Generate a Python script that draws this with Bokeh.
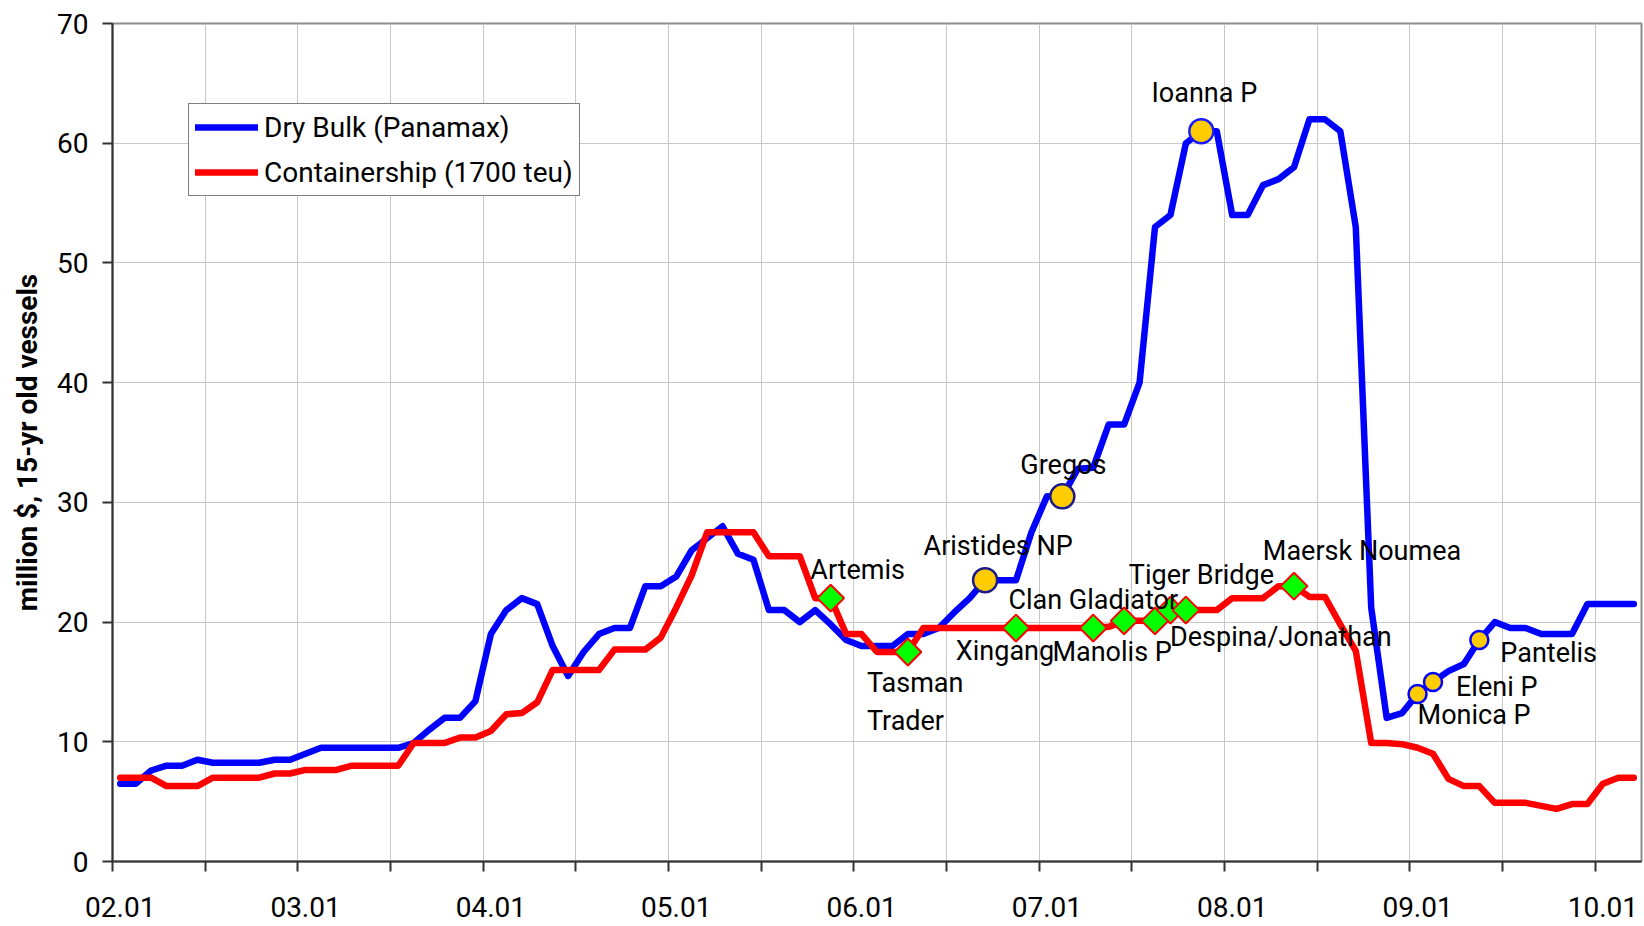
import numpy as np
from bokeh.plotting import figure
from bokeh.models import ColumnDataSource, FixedTicker, Legend, LegendItem, Range1d
from bokeh.core.properties import value
from bokeh.embed import file_html
from bokeh.resources import INLINE

# ---- data: monthly second-hand prices, Jan 2002 .. Mar 2010 (million $) ----
year_labels = ["02.01", "03.01", "04.01", "05.01", "06.01",
               "07.01", "08.01", "09.01", "10.01"]

dry_bulk = [
    6.5, 6.5, 7.6, 8.0, 8.0, 8.5, 8.25, 8.25, 8.25, 8.25, 8.5, 8.5,      # 2002
    9.0, 9.5, 9.5, 9.5, 9.5, 9.5, 9.5, 9.9, 11.0, 12.0, 12.0, 13.4,      # 2003
    19.0, 21.0, 22.0, 21.5, 18.0, 15.5, 17.5, 19.0, 19.5, 19.5, 23.0, 23.0,  # 2004
    23.8, 26.0, 27.0, 28.0, 25.7, 25.2, 21.0, 21.0, 20.0, 21.0, 19.8, 18.5,  # 2005
    18.0, 18.0, 18.0, 19.0, 19.0, 19.5, 20.8, 22.0, 23.5, 23.5, 23.5, 27.5,  # 2006
    30.5, 30.5, 32.8, 32.9, 36.5, 36.5, 40.0, 53.0, 54.0, 60.0, 61.0, 61.0,  # 2007
    54.0, 54.0, 56.5, 57.0, 58.0, 62.0, 62.0, 61.0, 53.0, 21.2, 12.0, 12.4,  # 2008
    14.0, 15.0, 15.9, 16.5, 18.5, 20.0, 19.5, 19.5, 19.0, 19.0, 19.0, 21.5,  # 2009
    21.5, 21.5, 21.5,                                                     # 2010
]

containership = [
    7.0, 7.0, 7.0, 6.3, 6.3, 6.3, 7.0, 7.0, 7.0, 7.0, 7.35, 7.35,        # 2002
    7.65, 7.65, 7.65, 8.0, 8.0, 8.0, 8.0, 9.9, 9.9, 9.9, 10.35, 10.35,   # 2003
    10.9, 12.3, 12.4, 13.3, 16.0, 16.0, 16.0, 16.0, 17.7, 17.7, 17.7, 18.7,  # 2004
    21.2, 23.9, 27.5, 27.5, 27.5, 27.5, 25.5, 25.5, 25.5, 22.0, 22.0, 19.0,  # 2005
    19.0, 17.5, 17.5, 17.5, 19.5, 19.5, 19.5, 19.5, 19.5, 19.5, 19.5, 19.5,  # 2006
    19.5, 19.5, 19.5, 19.5, 19.6, 20.1, 20.1, 20.1, 21.0, 21.0, 21.0, 21.0,  # 2007
    22.0, 22.0, 22.0, 23.0, 23.0, 22.1, 22.1, 19.8, 17.6, 9.9, 9.9, 9.8,    # 2008
    9.5, 9.0, 6.9, 6.3, 6.3, 4.9, 4.9, 4.9, 4.65, 4.4, 4.8, 4.8,          # 2009
    6.5, 7.0, 7.0,                                                        # 2010
]

# vessel sales (month index counted from Jan 2002)
bulk_sale_names = ["Aristides NP", "Gregos", "Ioanna P", "Monica P", "Eleni P", "Pantelis"]
bulk_sale_month = [56, 61, 70, 84, 85, 88]

box_sale_month = [46, 51, 58, 63, 65, 67, 68, 69, 76]
box_label_names = ["Artemis", "Tasman\nTrader", "Xingang", "Clan Gladiator", "Manolis P",
                   "Despina/Jonathan", "Tiger Bridge", "Maersk Noumea"]
box_label_month = [46, 51, 58, 63, 65, 67, 68, 76]

# ---- styling ----
FONT = "Roboto"
FS = "28px"
LABEL_FS = "27px"
LINE_STEP = 38          # px between stacked lines of a name
BLUE, RED = "#0000FF", "#FF0000"

# label placement: (align, dx, dy) in screen pixels relative to the marked point
LABEL_PLACE = {
    "Aristides NP": ("center", 13, -34),
    "Gregos": ("center", 1, -31),
    "Ioanna P": ("center", 3, -38),
    "Monica P": ("left", 0, 21),
    "Eleni P": ("left", 23, 5),
    "Pantelis": ("left", 21, 13),
    "Artemis": ("center", 27, -28),
    "Tasman\nTrader": ("left", -41, 31),
    "Xingang": ("center", -11, 23),
    "Clan Gladiator": ("center", 0, -28),
    "Manolis P": ("center", -12, 31),
    "Despina/Jonathan": ("left", 15, 16),
    "Tiger Bridge": ("center", 31, -35),
    "Maersk Noumea": ("center", 68, -35),
}

months = np.arange(len(dry_bulk))

p = figure(width=1644, height=926,
           x_range=Range1d(-0.5, len(dry_bulk) - 0.5), y_range=Range1d(0, 70),
           output_backend="svg", toolbar_location=None,
           min_border_left=112, min_border_right=3,
           min_border_top=23, min_border_bottom=65)

p.background_fill_color = "white"
p.border_fill_color = "white"
p.outline_line_color = "#8C8C8C"
p.outline_line_width = 2

# x axis: one label per January, tick marks every six months between categories
xa = p.xaxis[0]
xa.ticker = FixedTicker(ticks=[12 * k for k in range(len(year_labels))],
                        minor_ticks=[6 * k - 0.5 for k in range(17)])
xa.major_label_overrides = {12 * k: lab for k, lab in enumerate(year_labels)}
xa.major_tick_line_color = None
xa.major_tick_out = 0
xa.major_tick_in = 0
xa.minor_tick_line_color = "#333333"
xa.minor_tick_line_width = 2
xa.minor_tick_out = 10
xa.minor_tick_in = 0
xa.major_label_standoff = 25
xa.axis_line_color = "#333333"
xa.axis_line_width = 2
xa.major_label_text_font = FONT
xa.major_label_text_font_size = FS
xa.major_label_text_color = "black"

ya = p.yaxis[0]
ya.ticker = FixedTicker(ticks=list(range(0, 71, 10)))
ya.minor_tick_line_color = None
ya.major_tick_line_color = "#333333"
ya.major_tick_line_width = 2
ya.major_tick_out = 10
ya.major_tick_in = 0
ya.major_label_standoff = 14
ya.axis_line_color = "#333333"
ya.axis_line_width = 2
ya.major_label_text_font = FONT
ya.major_label_text_font_size = FS
ya.major_label_text_color = "black"
ya.axis_label = "million $, 15-yr old vessels"
ya.axis_label_text_font = FONT
ya.axis_label_text_font_size = "28px"
ya.axis_label_text_font_style = "bold"
ya.axis_label_text_color = "black"
ya.axis_label_standoff = 10

p.xgrid.ticker = FixedTicker(ticks=[6 * k - 0.5 for k in range(17)])
p.xgrid.grid_line_color = "#C8C8C8"
p.ygrid.grid_line_color = "#C8C8C8"
p.xgrid.grid_line_width = 1
p.ygrid.grid_line_width = 1

# price lines
bulk_line = p.line(months, dry_bulk, line_color=BLUE, line_width=6.5,
                   line_join="round", line_cap="round")
box_line = p.line(months, containership, line_color=RED, line_width=6.5,
                  line_join="round", line_cap="round")

# sale markers
bulk_src = ColumnDataSource(dict(
    x=bulk_sale_month,
    y=[dry_bulk[m] for m in bulk_sale_month],
    size=[24, 24, 24, 18, 18, 18],
    edge=["#1A1A8C", "#1A1A8C", "#1A1AFF", BLUE, BLUE, BLUE],
))
p.scatter("x", "y", source=bulk_src, marker="circle", size="size",
          fill_color="#FFCC00", line_color="edge", line_width=2.5)

box_src = ColumnDataSource(dict(
    x=box_sale_month,
    y=[containership[m] for m in box_sale_month],
))
p.scatter("x", "y", source=box_src, marker="square", angle=np.pi / 4, size=19,
          fill_color="#00FF00", line_color=RED, line_width=2)

# vessel names (a name may be stacked over several lines)
def add_labels(names, month_idx, series):
    for align in ("center", "left"):
        cols = dict(x=[], y=[], text=[], dx=[], dy=[])
        for k, name in enumerate(names):
            a, dx, dy = LABEL_PLACE[name]
            if a != align:
                continue
            for j, line in enumerate(name.split("\n")):
                cols["x"].append(month_idx[k])
                cols["y"].append(series[month_idx[k]])
                cols["text"].append(line)
                cols["dx"].append(dx)
                cols["dy"].append(dy + j * LINE_STEP)
        if not cols["x"]:
            continue
        p.text("x", "y", text="text", source=ColumnDataSource(cols),
               x_offset="dx", y_offset="dy",
               text_align=align, text_baseline="alphabetic",
               text_font=value(FONT), text_font_size=value(LABEL_FS),
               text_color="black")

add_labels(bulk_sale_names, bulk_sale_month, dry_bulk)
add_labels(box_label_names, box_label_month, containership)

legend = Legend(items=[LegendItem(label="Dry Bulk (Panamax)", renderers=[bulk_line]),
                       LegendItem(label="Containership (1700 teu)", renderers=[box_line])],
                location=(76, 665))
legend.label_text_font = FONT
legend.label_text_font_size = FS
legend.label_text_color = "black"
legend.glyph_width = 63
legend.glyph_height = 34
legend.label_height = 34
legend.label_standoff = 6
legend.padding = 6
legend.spacing = 11
legend.margin = 0
legend.border_line_color = "black"
legend.border_line_width = 1
legend.background_fill_alpha = 1
p.add_layout(legend)

open("out.html", "w").write(file_html(p, INLINE))
